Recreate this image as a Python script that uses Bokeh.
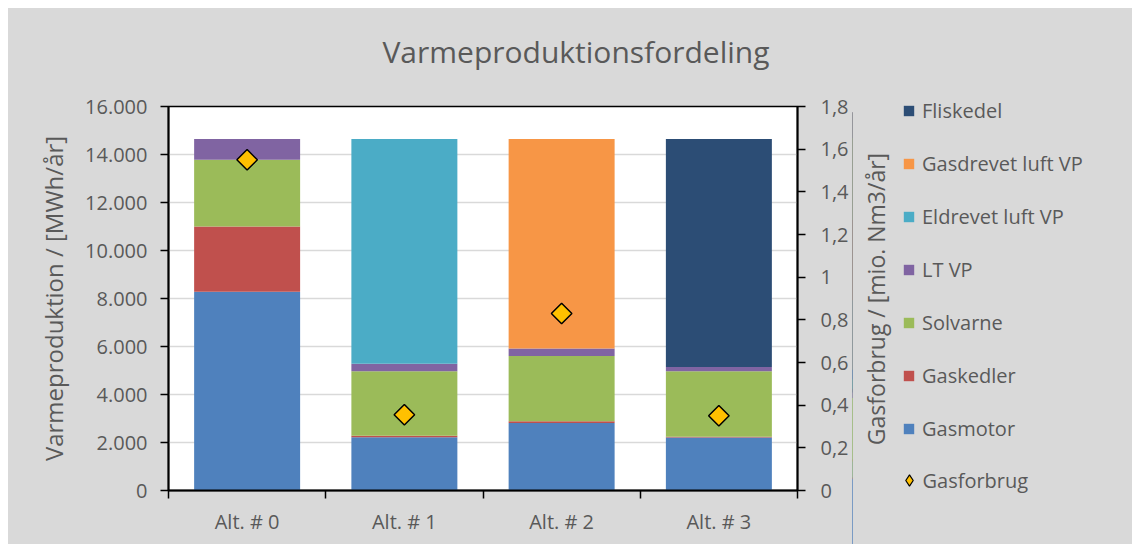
import math
from bokeh.plotting import figure
from bokeh.models import (ColumnDataSource, Range1d, LinearAxis, FixedTicker,
                          Legend, LegendItem, Label)
from bokeh.layouts import column, row
from bokeh.embed import file_html
from bokeh.resources import INLINE

categories = ["Alt. # 0", "Alt. # 1", "Alt. # 2", "Alt. # 3"]
gasmotor = [8280, 2220, 2810, 2210]
gaskedler = [2720, 60, 80, 30]
solvarne = [2780, 2690, 2710, 2730]
lt_vp = [870, 310, 320, 180]
eldrevet = [0, 9370, 0, 0]
gasdrevet = [0, 0, 8730, 0]
fliskedel = [0, 0, 0, 9500]
gasforbrug = [1.55, 0.355, 0.83, 0.35]

left_ticks = [0, 2000, 4000, 6000, 8000, 10000, 12000, 14000, 16000]
left_labels = ["0", "2.000", "4.000", "6.000", "8.000", "10.000", "12.000", "14.000", "16.000"]
right_ticks = [0, 0.2, 0.4, 0.6, 0.8, 1.0, 1.2, 1.4, 1.6, 1.8]
right_labels = ["0", "0,2", "0,4", "0,6", "0,8", "1", "1,2", "1,4", "1,6", "1,8"]

series = ["Gasmotor", "Gaskedler", "Solvarne", "LT VP", "Eldrevet luft VP",
          "Gasdrevet luft VP", "Fliskedel"]
colors = ["#4f81bd", "#c0504d", "#9bbb59", "#8064a2", "#4bacc6", "#f79646", "#2c4d75"]

FONT = "Open Sans"
TXT = "#595959"
BG = "#d9d9d9"

xpos = [i + 0.5 for i in range(len(categories))]
data = dict(x=xpos, gas=gasforbrug)
for name, vals in zip(series, [gasmotor, gaskedler, solvarne, lt_vp, eldrevet, gasdrevet, fliskedel]):
    data[name] = vals
src = ColumnDataSource(data)


def blank(width, height, xr=None, yr=None):
    f = figure(width=width, height=height, output_backend="svg", toolbar_location=None,
               x_axis_type=None, y_axis_type=None, min_border=0, frame_align=False,
               x_range=xr or Range1d(0, 1), y_range=yr or Range1d(0, 1),
               background_fill_color=BG, border_fill_color=BG)
    f.outline_line_color = None
    f.grid.visible = False
    return f


# ---------------- title strip ----------------
pt = blank(1124, 64)
pt.add_layout(Label(x=567.5, y=21, x_units="screen", y_units="screen",
                    text="Varmeproduktionsfordeling",
                    text_align="center", text_baseline="alphabetic",
                    text_font=FONT, text_font_size="30px", text_color=TXT))

# ---------------- main chart ----------------
p = figure(width=844, height=472, output_backend="svg", toolbar_location=None,
           x_range=Range1d(0, 4), y_range=Range1d(0, 16000),
           border_fill_color=BG, frame_align=False,
           min_border_left=160, min_border_right=55, min_border_top=34,
           min_border_bottom=54)
p.background_fill_color = "white"
p.outline_line_color = "black"
p.outline_line_width = 1.5
p.extra_y_ranges = {"gas": Range1d(0, 1.8)}

bars = p.vbar_stack(series, x="x", width=0.674, source=src, color=colors,
                    line_color=None)
pts = p.scatter(x="x", y="gas", source=src, y_range_name="gas", marker="square",
                angle=math.pi / 4, size=14.5, fill_color="#ffc000",
                line_color="black", line_width=1.5)

xa = p.xaxis[0]
xa.ticker = FixedTicker(ticks=xpos, minor_ticks=[0, 1, 2, 3, 4])
xa.major_label_overrides = {x: c for x, c in zip(xpos, categories)}
xa.major_tick_line_color = None
xa.major_tick_out = 0
xa.minor_tick_out = 8
xa.minor_tick_in = 0
xa.minor_tick_line_color = "black"
xa.minor_tick_line_width = 1.5
xa.axis_line_color = "black"
xa.axis_line_width = 2
xa.major_label_standoff = 9
xa.major_label_text_font = FONT
xa.major_label_text_font_size = "20px"
xa.major_label_text_color = TXT

ya = p.yaxis[0]
ya.ticker = FixedTicker(ticks=left_ticks, minor_ticks=[])
ya.major_label_overrides = {t: l for t, l in zip(left_ticks, left_labels)}
ya.major_tick_out = 8
ya.major_tick_in = 0
ya.major_tick_line_width = 1.5
ya.axis_line_width = 2
ya.major_label_standoff = 13
ya.major_label_text_font = FONT
ya.major_label_text_font_size = "20px"
ya.major_label_text_color = TXT
ya.axis_label = "Varmeproduktion / [MWh/år]"
ya.axis_label_text_font = FONT
ya.axis_label_text_font_size = "24px"
ya.axis_label_text_font_style = "normal"
ya.axis_label_text_color = TXT
ya.axis_label_standoff = 12

ra = LinearAxis(y_range_name="gas",
                ticker=FixedTicker(ticks=right_ticks, minor_ticks=[]))
ra.major_label_overrides = {t: l for t, l in zip(right_ticks, right_labels)}
ra.major_tick_out = 8
ra.major_tick_in = 0
ra.major_tick_line_width = 1.5
ra.axis_line_width = 2
ra.major_label_standoff = 15
ra.major_label_text_font = FONT
ra.major_label_text_font_size = "20px"
ra.major_label_text_color = TXT
p.add_layout(ra, "right")

p.xgrid.grid_line_color = None
p.ygrid.ticker = FixedTicker(ticks=left_ticks)
p.ygrid.grid_line_color = BG
p.ygrid.grid_line_width = 1.5

# ---------------- legend / right axis title panel ----------------
pl = blank(280, 472, xr=Range1d(10, 11), yr=Range1d(0, 16000))
# legend proxies (same data, lying outside this panel's visible x range)
lbars = pl.vbar_stack(series, x="x", width=0.674, source=src, color=colors,
                      line_color=None)
lpts = pl.scatter(x="x", y="gas", source=src, marker="diamond", size=14,
                  fill_color="#ffc000", line_color="black", line_width=1.2)

pl.add_layout(Label(x=23, y=245.5, x_units="screen", y_units="screen",
                    text="Gasforbrug / [mio. Nm3/år]", angle=math.pi / 2,
                    text_align="center", text_baseline="middle",
                    text_font=FONT, text_font_size="23px", text_color=TXT))

order = [6, 5, 4, 3, 2, 1, 0]
items = [LegendItem(label=series[i], renderers=[lbars[i]]) for i in order]
leg = Legend(items=items, location=(50, 102), orientation="vertical",
             background_fill_alpha=0, border_line_color=None,
             glyph_width=13, glyph_height=13, label_height=13, spacing=26,
             padding=0, margin=0, label_standoff=7,
             label_text_font=FONT, label_text_font_size="20px",
             label_text_color=TXT)
pl.add_layout(leg)

leg2 = Legend(items=[LegendItem(label="Gasforbrug", renderers=[lpts])],
              location=(42.5, 50), orientation="vertical",
              background_fill_alpha=0, border_line_color=None,
              glyph_width=28, glyph_height=28, label_height=28,
              padding=0, margin=0, label_standoff=0,
              label_text_font=FONT, label_text_font_size="20px",
              label_text_color=TXT)
pl.add_layout(leg2)

inner = row(p, pl, spacing=0, styles={"background-color": BG})
layout = column(pt, inner, spacing=0, margin=(8, 0, 0, 8),
                styles={"background-color": BG})

open("out.html", "w").write(file_html(layout, INLINE))
